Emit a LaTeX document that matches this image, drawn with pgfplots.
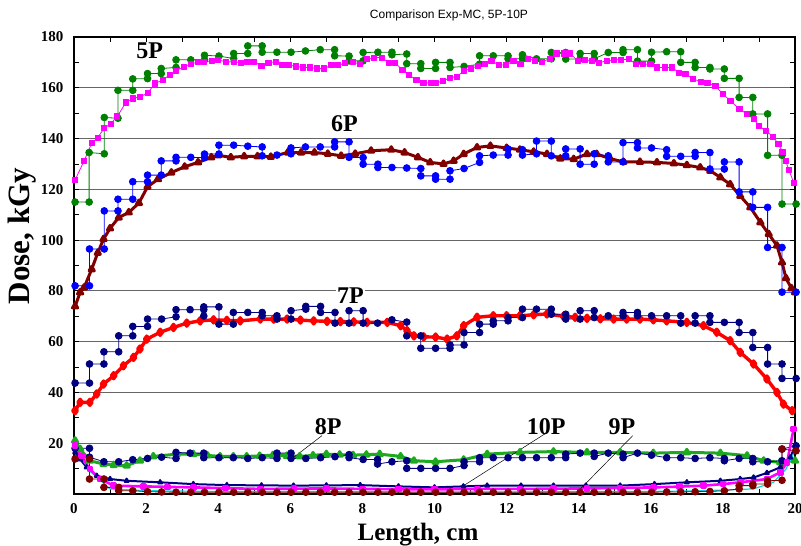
\documentclass[border=0pt]{standalone}
\usepackage{fontspec}
\setmainfont{Liberation Serif}
\newfontfamily\sansf{Liberation Sans}
\usepackage{pgfplots}
\pgfplotsset{compat=1.18}
\definecolor{gfive}{RGB}{0,128,0}
\definecolor{mag}{RGB}{255,0,255}
\definecolor{bl}{RGB}{0,0,255}
\definecolor{maroon}{RGB}{128,0,0}
\definecolor{navy}{RGB}{0,0,128}
\definecolor{rd}{RGB}{255,0,0}
\definecolor{geight}{RGB}{30,170,30}
\definecolor{cy}{RGB}{0,220,220}
\begin{document}
\begin{tikzpicture}
\begin{axis}[
  scale only axis, width=721pt, height=457pt, at={(0,0)}, anchor=south west,
  xmin=0, xmax=20, ymin=0, ymax=180,
  xtick={0,2,...,20}, minor xtick={1,3,...,19},
  ytick={20,40,...,180}, minor ytick={10,30,...,170},
  ymajorgrids, major grid style={black!60, line width=0.8pt},
  tick align=inside, major tick length=5pt, minor tick length=5pt,
  tick style={black, line width=0.8pt},
  axis line style={line width=1.3pt},
  /pgf/number format/assume math mode=true,
  ticklabel style={font=\bfseries\fontsize{15}{15}\selectfont},
  xticklabel style={yshift=-6pt},
  yticklabel style={xshift=-7pt},
  clip=false,
  every axis plot/.append style={line join=round},
  exp/.style={mark=*, mark size=3.4pt, line width=0.8pt},
]
% 5P exp (green)
\addplot[color=gfive, exp] coordinates {(0.03,115)(0.42,115)(0.42,134.5)(0.84,134)(0.84,148.3)(1.22,148)(1.22,159)(1.63,159)(1.63,163.5)(2.04,163.6)(2.04,165.6)(2.42,165.6)(2.42,167.6)(2.83,168)(2.83,171)(3.24,171)(3.62,171)(3.62,172.8)(4.02,172.5)(4.43,171.5)(4.43,173.5)(4.82,173.5)(4.82,176.5)(5.22,176.5)(5.22,174)(5.63,174)(6.02,174)(6.42,174.5)(6.83,175)(7.23,175)(7.23,172.6)(7.63,172.5)(7.63,170.6)(8.02,170.6)(8.02,173.9)(8.43,174)(8.82,174)(8.82,173)(9.23,173.3)(9.23,169.5)(9.62,169.5)(9.62,167.6)(10.03,167.6)(10.03,170)(10.43,170)(10.43,168)(10.82,168.4)(11.25,169.3)(11.25,172.6)(11.63,172.6)(12.04,172.6)(12.04,171.4)(12.44,171.4)(12.44,173)(12.83,171.4)(13.24,171.4)(13.24,173.9)(13.64,173.9)(13.64,171.3)(14.04,171.4)(14.04,173.5)(14.43,173.5)(14.43,171.4)(14.82,173.9)(15.23,173.9)(15.23,175)(15.63,175)(15.63,170.5)(16.02,170.5)(16.02,174)(16.44,174.2)(16.83,174.2)(16.83,170)(17.23,170)(17.23,168)(17.64,168)(17.64,167.4)(18.04,167.4)(18.04,163.7)(18.45,163.7)(18.45,156.2)(18.83,156.2)(18.83,149.7)(19.24,149.7)(19.24,133.4)(19.64,133.4)(19.64,114.2)(20.03,114.2)};
% 5P MC (magenta)
\addplot[color=mag, mark=square*, mark size=2.6pt, line width=0.8pt] coordinates {(0.03,123.7)(0.28,131.2)(0.49,138.2)(0.66,140.4)(0.84,144.1)(1.02,145.9)(1.2,148.7)(1.44,154.2)(1.63,155.8)(1.83,156.4)(2.04,157.9)(2.25,161.7)(2.46,163.1)(2.65,165)(2.83,166.7)(3.04,168.3)(3.24,169.3)(3.43,170.2)(3.61,170.2)(3.82,170.6)(4.0,171)(4.21,170.2)(4.43,170.2)(4.62,169.9)(4.81,170.2)(5.0,170.2)(5.2,168.6)(5.39,169.9)(5.59,170.2)(5.78,168.9)(5.96,168.9)(6.16,168.4)(6.36,168)(6.55,168)(6.73,167.6)(6.94,167.6)(7.14,168.9)(7.33,168.9)(7.52,169.7)(7.74,170.2)(7.92,169.3)(8.13,171.3)(8.32,171.9)(8.53,171.9)(8.73,169.9)(8.91,169.9)(9.11,166.9)(9.3,165)(9.5,163)(9.69,161.8)(9.89,162)(10.03,161.8)(10.23,162.7)(10.43,164)(10.62,164.4)(10.81,166.6)(11.0,167.6)(11.2,168.6)(11.4,169.5)(11.58,170.6)(11.78,169)(11.98,169)(12.19,170.6)(12.38,169.5)(12.6,171.5)(12.78,170.6)(12.98,170.2)(13.2,171.5)(13.38,173.5)(13.58,173.5)(13.76,173.5)(13.98,170.6)(14.17,171)(14.37,170.6)(14.57,169.9)(14.78,170.6)(14.97,171)(15.18,171)(15.39,171.3)(15.59,169.3)(15.78,169.3)(15.99,169.3)(16.18,168)(16.38,168)(16.59,168)(16.77,166)(16.96,165.4)(17.17,163.6)(17.38,162.3)(17.57,162)(17.79,160.7)(18.0,157.5)(18.21,154.8)(18.46,151.6)(18.67,149.6)(18.86,147.6)(19.0,145)(19.19,143)(19.39,140.8)(19.54,137.8)(19.65,134.8)(19.74,131.2)(19.83,127.7)(19.97,122.4)};
% 6P MC (maroon triangles)
\addplot[color=maroon, mark=triangle*, mark size=3pt, line width=3pt] coordinates {(0.03,73.9)(0.17,79.4)(0.28,81.3)(0.49,88.5)(0.66,95)(0.82,100.4)(1.0,104.6)(1.24,108.9)(1.52,110.9)(1.8,114.6)(2.04,121)(2.33,124)(2.7,126.6)(3.07,128.9)(3.44,130.6)(3.81,132.6)(4.0,133.4)(4.35,132.6)(4.72,133)(5.09,133)(5.46,132.8)(5.93,134.5)(6.3,134.5)(6.67,134.5)(7.04,134)(7.41,133.2)(7.8,134)(8.24,135.2)(8.8,135.6)(9.17,134.5)(9.54,132.6)(9.88,130.6)(10.25,130)(10.53,131.2)(10.81,133.9)(11.18,136.5)(11.55,137.1)(12.0,136.3)(12.37,135.6)(12.75,134.8)(13.12,133.9)(13.49,132.1)(13.86,131.9)(14.23,133.9)(14.5,133.9)(14.87,132.1)(15.24,130.8)(15.7,130.8)(16.17,130.6)(16.64,130.2)(17.0,129.5)(17.37,128.6)(17.65,127.3)(17.93,124.7)(18.2,122)(18.48,117.4)(18.76,112.9)(19.04,107)(19.27,102.4)(19.5,97.8)(19.64,91.2)(19.75,85)(19.9,81)(20.0,79.4)};
% 6P exp (blue)
\addplot[color=bl, exp] coordinates {(0.03,82)(0.43,82)(0.43,96.5)(0.84,96.5)(0.84,111.5)(1.22,111.5)(1.22,116.1)(1.63,116.1)(1.63,123)(2.04,123)(2.04,125.6)(2.42,125.6)(2.42,131.2)(2.83,131.2)(2.83,132.6)(3.24,132.6)(3.62,132.5)(3.62,133.9)(4.02,133.9)(4.02,137.4)(4.43,137.4)(4.82,137)(5.22,136.7)(5.22,133.2)(5.63,133.5)(6.02,134)(6.02,136.3)(6.42,136.7)(6.83,136.7)(7.23,136.7)(7.23,138.7)(7.63,138.7)(7.63,132.6)(8.02,132.5)(8.02,129.9)(8.43,129.9)(8.43,128.6)(8.82,128.6)(9.23,128.4)(9.62,128.2)(9.62,125.3)(10.03,125.3)(10.03,124)(10.43,124)(10.43,127.3)(10.82,128.2)(11.25,130.6)(11.25,133.2)(11.63,133.5)(12.04,133.5)(12.04,135.9)(12.44,135.6)(12.44,133.5)(12.83,134)(12.83,139)(13.24,139)(13.24,133.2)(13.64,133.2)(13.64,135.9)(14.04,135.9)(14.04,129.9)(14.43,129.9)(14.43,134)(14.82,133.2)(14.82,130.8)(15.23,130.8)(15.23,138.4)(15.63,138.4)(15.63,136.3)(16.02,136.3)(16.44,135.6)(16.44,133)(16.83,133)(17.23,133)(17.23,134.5)(17.64,134.5)(17.64,128)(18.04,128)(18.04,130.8)(18.45,130.8)(18.45,119)(18.83,119)(18.83,112.9)(19.24,112.9)(19.24,97.1)(19.64,97.1)(19.64,79.5)(20.03,79.5)};
% 7P MC (red diamonds)
\addplot[color=rd, mark=diamond*, mark size=3pt, line width=3.4pt] coordinates {(0.03,32.8)(0.17,36.1)(0.44,36.1)(0.63,39.4)(0.82,43.3)(1.1,46.6)(1.37,50.5)(1.65,53.8)(1.83,57.1)(2.02,61)(2.39,63.7)(2.76,65.6)(3.13,67.3)(3.5,68.2)(3.87,68.6)(4.24,68.4)(4.61,68.2)(5.17,68.9)(5.54,68.9)(5.91,68.9)(6.28,68.5)(6.65,68.2)(7.02,68)(7.39,67.9)(7.76,67.8)(8.13,67.6)(8.69,67.6)(9.06,66.3)(9.24,64.3)(9.43,62.3)(9.7,61.9)(10.03,61.8)(10.35,61)(10.62,62.3)(10.81,66.3)(11.18,69.6)(11.63,70.2)(12.0,70.2)(12.37,70.2)(12.75,70.6)(13.12,70.9)(13.58,70)(13.9,69.6)(14.23,69.2)(14.6,69)(14.97,68.9)(15.33,68.9)(15.7,68.9)(16.07,68.6)(16.44,68.2)(17.0,67.6)(17.46,66.3)(17.83,63.7)(18.2,60.4)(18.48,55.8)(18.85,51.2)(19.22,45.3)(19.5,40)(19.68,35.4)(19.92,32.8)};
% 7P exp (navy)
\addplot[color=navy, exp] coordinates {(0.03,43.7)(0.43,43.7)(0.43,51.2)(0.83,51.2)(0.83,56)(1.24,56)(1.24,62.3)(1.63,62.3)(1.63,66)(2.04,66)(2.04,68.9)(2.43,68.9)(2.83,69.8)(2.83,72.6)(3.22,72.6)(3.6,72.6)(3.6,70.1)(3.6,73.7)(4.02,73.7)(4.02,66.9)(4.42,66.9)(4.42,71.5)(4.82,71.5)(5.22,71.5)(5.22,70.2)(5.63,70.2)(5.63,68.9)(6.02,68.9)(6.02,72.2)(6.43,72.8)(6.43,73.9)(6.84,73.9)(6.84,71.5)(7.24,71.5)(7.24,67.3)(7.63,67.3)(7.63,72.2)(8.02,72.2)(8.02,67.3)(8.42,67.3)(8.82,68.6)(9.23,67.7)(9.23,62.3)(9.62,62.3)(9.62,57.4)(10.03,57.4)(10.43,57.4)(10.43,58.7)(10.82,58.7)(10.82,63.6)(11.25,63.6)(11.25,66.9)(11.63,66.9)(11.63,68.2)(12.04,68.2)(12.04,69.5)(12.44,69.5)(12.44,72.8)(12.83,72.8)(13.24,72.8)(13.24,70.8)(13.64,70.8)(13.64,68.9)(14.04,68.9)(14.04,72.2)(14.43,72.2)(14.43,69.5)(14.82,70.2)(15.23,70.2)(15.23,71.5)(15.63,71.5)(15.63,70.2)(16.02,70.2)(16.44,70.2)(16.83,70.2)(16.83,67.3)(17.23,67.3)(17.23,70.2)(17.64,70.2)(17.64,67.6)(18.04,67.6)(18.45,67.6)(18.45,63.6)(18.83,63.6)(18.83,57.7)(19.24,57.7)(19.24,51.2)(19.64,51.2)(19.64,45.5)(20.03,45.5)};
% 8P MC (green triangles)
\addplot[color=geight, mark=triangle*, mark size=3pt, line width=3pt] coordinates {(0.03,21)(0.17,17.7)(0.44,13.1)(0.82,11.8)(1.1,11.4)(1.46,11.2)(1.83,13.1)(2.2,14.8)(2.85,15.7)(3.31,15.7)(3.7,15.2)(4.05,14.8)(4.42,14.8)(4.79,14.8)(5.15,15)(5.52,15.3)(5.9,15)(6.26,14.8)(6.63,15.2)(7.0,15.7)(7.37,15.5)(7.74,15.3)(8.11,15.5)(8.48,15.7)(9.06,14.8)(9.43,13.1)(10.03,12.7)(10.81,13.5)(11.46,15.7)(12.37,16.4)(13.3,16.7)(14.23,16.4)(15.15,16.4)(16.07,16.1)(17.0,16.4)(17.93,16.1)(18.67,15.1)(19.13,13.1)(19.59,12.5)(20.0,13.1)};
% 8P exp (navy)
\addplot[color=navy, exp] coordinates {(0.03,18)(0.43,18)(0.43,14.5)(0.83,12.7)(1.24,12.7)(1.63,13.5)(2.04,14)(2.43,14.5)(2.83,14)(2.83,16.4)(3.22,16.1)(3.6,16.1)(3.6,14.3)(4.02,14.3)(4.42,14.3)(4.82,14)(5.22,14.3)(5.63,14)(5.63,16.1)(6.02,16.1)(6.02,14)(6.43,14)(6.84,14.3)(7.24,14.7)(7.63,15.5)(7.63,14.3)(8.02,13.6)(8.42,13.6)(8.42,11.8)(8.82,12.7)(9.23,13.1)(9.23,10.1)(9.62,10.1)(10.03,10.1)(10.43,10.1)(10.82,11.2)(10.82,12.7)(11.25,12.7)(11.25,14.3)(11.63,14.3)(12.04,14.3)(12.44,14.3)(12.83,14.3)(13.24,14.3)(13.64,14.3)(13.64,15.7)(14.04,16.1)(14.43,16.1)(14.43,14.8)(14.82,16.1)(15.23,15.7)(15.23,14.3)(15.63,16.1)(16.02,15.3)(16.44,14.3)(16.83,14.3)(17.23,14)(17.64,14.3)(18.04,14)(18.04,13.1)(18.45,14)(18.83,14)(18.83,12.7)(19.24,12.7)(19.64,13.1)(19.64,17.7)(20.03,19)};
% 10P (navy triangles)
\addplot[color=navy, mark=triangle*, mark size=2.2pt, line width=2pt] coordinates {(0.03,16.4)(0.17,13.7)(0.35,10.5)(0.63,7.2)(1.0,5.9)(1.46,5.2)(2.39,4.6)(3.31,3.9)(4.24,3.5)(5.2,3.4)(6.09,3.3)(7.0,3.4)(7.94,3.5)(9.0,3)(10.0,2.6)(10.8,3)(11.46,3.3)(12.4,3.3)(13.3,3.3)(14.2,3.3)(15.15,3.3)(16.1,3.9)(17.0,4.6)(17.93,5.2)(18.48,5.9)(18.85,6.5)(19.22,8.3)(19.59,10.5)(19.87,14.4)(20.0,19)};
% cyan
\addplot[color=cy, line width=1.2pt] coordinates {(0.03,18)(0.44,9)(1.0,2)(2.0,1.3)(4.0,1)(6.0,1)(8.0,0.9)(10.0,0.8)(12.0,0.8)(14.0,0.9)(16.0,1)(17.5,1.3)(18.85,2)(19.4,4.6)(19.75,9.8)(20.0,17)};
% 9P (magenta)
\addplot[color=mag, mark=square*, mark size=2pt, line width=2.6pt] coordinates {(0.03,19)(0.2,15)(0.44,9.8)(0.72,5.9)(1.1,3.3)(1.93,3)(2.6,2.8)(3.31,2.6)(4.2,2.3)(5.17,2)(6.1,2.1)(7.0,2.2)(8.0,2)(9.0,1.9)(10.0,1.8)(11.2,2)(12.37,2)(13.3,2.1)(14.23,2.2)(15.15,2.4)(16.07,2.6)(16.8,2.9)(17.46,3.3)(18.0,3.9)(18.48,4.6)(19.22,5.9)(19.59,8.5)(19.78,12.4)(19.96,25.6)};
% dark red circles
\addplot[color=maroon, exp] coordinates {(0.03,13.8)(0.43,13.8)(0.43,5.9)(0.83,5.9)(0.83,2.6)(1.24,2.6)(1.24,1.3)(1.63,1.3)(2.04,0.9)(2.43,0.8)(2.83,0.7)(3.24,0.7)(3.62,0.7)(4.02,0.7)(4.43,0.7)(4.82,0.7)(5.22,0.7)(5.63,0.7)(6.02,0.7)(6.43,0.7)(6.83,0.7)(7.23,0.7)(7.63,0.7)(8.02,0.7)(8.43,0.7)(8.82,0.7)(9.23,0.7)(9.62,0.7)(10.03,0.7)(10.43,0.7)(10.82,0.7)(11.25,0.7)(11.63,0.7)(12.04,0.7)(12.44,0.7)(12.83,0.7)(13.24,0.7)(13.64,0.7)(14.04,0.7)(14.43,0.7)(14.82,0.7)(15.23,0.7)(15.63,0.7)(16.02,0.7)(16.44,0.8)(16.83,0.8)(17.23,0.9)(17.64,1)(18.04,1.3)(18.45,2)(18.45,3.3)(18.83,3.3)(18.83,3.9)(19.24,3.9)(19.24,5.2)(19.64,5.4)(19.64,17.7)(20.03,17)};
% labels
\node[font=\bfseries\fontsize{24}{24}\selectfont] at (axis cs:2.1,174.4) {5P};
\node[font=\bfseries\fontsize{24}{24}\selectfont] at (axis cs:7.5,146) {6P};
\node[font=\bfseries\fontsize{24}{24}\selectfont, fill=white, inner sep=1pt] at (axis cs:7.67,78.3) {7P};
\draw[black, line width=0.5pt] (axis cs:6.88,23) -- (axis cs:6.09,14.4);
\node[font=\bfseries\fontsize{24}{24}\selectfont] at (axis cs:7.05,26.5) {8P};
\draw[black, line width=0.5pt] (axis cs:13.13,24.3) -- (axis cs:10.81,3.3);
\node[font=\bfseries\fontsize{24}{24}\selectfont] at (axis cs:13.1,26.5) {10P};
\draw[black, line width=0.5pt] (axis cs:15.5,23) -- (axis cs:14.0,1.3);
\node[font=\bfseries\fontsize{24}{24}\selectfont] at (axis cs:15.2,26.5) {9P};
\end{axis}
\node[font=\sansf\fontsize{12}{12}\selectfont] at (375pt,479pt) {Comparison Exp-MC, 5P-10P};
\node[font=\bfseries\fontsize{31}{31}\selectfont, rotate=90] at (-52pt,258pt) {Dose, kGy};
\node[font=\bfseries\fontsize{25}{25}\selectfont] at (344pt,-41pt) {Length, cm};
\pgfresetboundingbox
\path[use as bounding box] (-74pt,-52pt) rectangle (727pt,494pt);
\end{tikzpicture}
\end{document}
